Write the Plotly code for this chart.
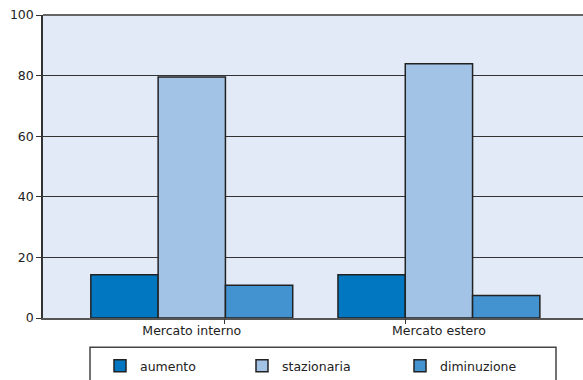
import plotly.graph_objects as go

# Survey results: share of respondents (%) by expected trend, per market
markets = ["Mercato interno", "Mercato estero"]
series_names = ["aumento", "stazionaria", "diminuzione"]
aumento = [14.3, 14.3]
stazionaria = [79.5, 83.9]
diminuzione = [10.8, 7.4]
y_ticks = [0, 20, 40, 60, 80, 100]

values = [aumento, stazionaria, diminuzione]
colors = ["#0077C0", "#A3C3E6", "#4393D0"]
legend_ids = ["legend", "legend2", "legend3"]

W, H = 583, 380
FONT = "DejaVu Sans"
TEXT = "#222222"

fig = go.Figure()
for name, vals, col, lg in zip(series_names, values, colors, legend_ids):
    fig.add_trace(go.Bar(
        name=name, x=markets, y=vals,
        marker=dict(color=col, line=dict(color="#222222", width=1.5)),
        legend=lg,
    ))

# secondary axis carrying only the small bottom tick marks
fig.add_trace(go.Scatter(x=[0.134, 0.866], y=[None, None], xaxis="x2",
                         showlegend=False, hoverinfo="skip"))


def legend_at(px_x, px_y):
    return dict(xref="container", yref="container", x=px_x / W, y=1 - px_y / H,
                xanchor="left", yanchor="middle", orientation="h",
                bgcolor="rgba(0,0,0,0)", borderwidth=0,
                font=dict(family=FONT, size=12.5, color=TEXT))


fig.update_layout(
    width=W, height=H,
    margin=dict(l=43, r=0, t=15, b=62, autoexpand=False),
    paper_bgcolor="white",
    plot_bgcolor="#E3EAF7",
    barmode="group", bargap=0.183, bargroupgap=0,
    font=dict(family=FONT, size=12.5, color=TEXT),
    xaxis=dict(type="category", range=[-0.602, 1.583], ticks="",
               showline=True, linecolor="#555555", linewidth=1.5, mirror=False,
               showgrid=False, tickfont=dict(size=12.5, color=TEXT)),
    xaxis2=dict(overlaying="x", range=[-0.602, 1.583], tickvals=[0.134, 0.866],
                ticks="outside", ticklen=5, tickwidth=1.2, tickcolor="#333333",
                showticklabels=False, showgrid=False, showline=False,
                zeroline=False, side="bottom", anchor="y"),
    yaxis=dict(range=[0, 100], tickvals=y_ticks, ticks="outside", ticklen=5,
               tickwidth=1.2, tickcolor="#333333", showline=True, mirror=False,
               linecolor="#333333", linewidth=1.5, showgrid=True,
               gridcolor="#333333", gridwidth=1, zeroline=False,
               tickfont=dict(size=12.5, color=TEXT)),
    legend=legend_at(100, 366),
    legend2=legend_at(242, 366),
    legend3=legend_at(400, 366),
    shapes=[
        # frame around the legend row
        dict(type="rect", xref="paper", yref="paper",
             x0=(90 - 43) / 540, x1=(556 - 43) / 540,
             y0=-(395 - 318) / 303, y1=-(347.3 - 318) / 303,
             line=dict(color="#444444", width=1.5), fillcolor="rgba(0,0,0,0)",
             layer="above"),
        # top border of the plotting area
        dict(type="line", xref="paper", yref="paper", x0=0, x1=1, y0=1, y1=1,
             line=dict(color="#666666", width=2), layer="above"),
    ],
)

fig.write_html("out.html")
